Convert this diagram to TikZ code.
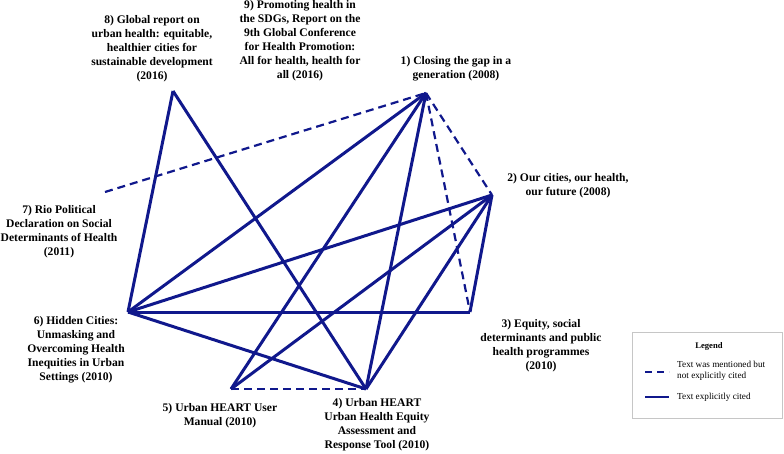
\documentclass[tikz,border=0pt]{standalone}
\usepackage{fontspec}
\setmainfont{Liberation Serif}
\usepackage{tikz}
\usetikzlibrary{positioning}
\definecolor{linkblue}{RGB}{16,24,140}

\begin{document}
\begin{tikzpicture}[x=1pt, y=-1pt,
  cited/.style={draw=linkblue, line width=3pt},
  mentioned/.style={draw=linkblue, line width=2.2pt, dash pattern=on 8pt off 5pt},
  doc/.style={font=\bfseries\fontsize{11.6}{14}\selectfont, align=center, inner sep=0pt},
  legtext/.style={font=\fontsize{9.2}{10.5}\selectfont, align=left, anchor=west, inner sep=0pt}]
\useasboundingbox (0,0) rectangle (784,454);
% document points
\coordinate (p1) at (426,93);
\coordinate (p2) at (492,195);
\coordinate (p3) at (470,312);
\coordinate (p4) at (366,389);
\coordinate (p5) at (231,389);
\coordinate (p6) at (128,312);
\coordinate (p7) at (105,192);
\coordinate (p8) at (173,91);
% labels
\node[doc] (t1) at (456,68.5) {1) Closing the gap in a\\generation (2008)};
\node[doc] (t2) at (568,186) {2) Our cities, our health,\\our future (2008)};
\node[doc] (t3) at (541,346) {3) Equity, social\\determinants and public\\health programmes\\(2010)};
\node[doc] (t4) at (377,425) {4) Urban HEART\\Urban Health Equity\\Assessment and\\Response Tool (2010)};
\node[doc] (t5) at (220,416) {5) Urban HEART User\\Manual (2010)};
\node[doc] (t6) at (76,350) {6) Hidden Cities:\\Unmasking and\\Overcoming Health\\Inequities in Urban\\Settings (2010)};
\node[doc] (t7) at (59,232) {7) Rio Political\\Declaration on Social\\Determinants of Health\\(2011)};
\node[doc] (t8) at (152,49) {8) Global report on\\urban health: equitable,\\healthier cities for\\sustainable development\\(2016)};
\node[doc] (t9) at (300,40.5) {9) Promoting health in\\the SDGs, Report on the\\9th Global Conference\\for Health Promotion:\\All for health, health for\\all (2016)};
% mentioned only
\draw[mentioned] (p7) -- (p1);
\draw[mentioned] (p1) -- (p2);
\draw[mentioned] (p1) -- (p3);
\draw[mentioned] (p5) -- (p4);
% cited
\draw[cited] (p8) -- (p6);
\draw[cited] (p8) -- (p4);
\draw[cited] (p1) -- (p6);
\draw[cited] (p1) -- (p5);
\draw[cited] (p1) -- (p4);
\draw[cited] (p2) -- (p6);
\draw[cited] (p2) -- (p3);
\draw[cited] (p2) -- (p5);
\draw[cited] (p2) -- (p4);
\draw[cited] (p6) -- (p3);
\draw[cited] (p6) -- (p4);
% legend
\draw[gray!45, line width=0.6pt] (632,332) rectangle (782,418);
\node[font=\bfseries\fontsize{8.6}{10}\selectfont, inner sep=0pt] (leg) at (709,346) {Legend};
\coordinate (d1) at (645,372);
\coordinate (d2) at (669,372);
\coordinate (s1) at (645,397);
\coordinate (s2) at (669,397);
\draw[mentioned, line width=1.8pt, dash pattern=on 7pt off 5pt] (d1) -- (d2);
\draw[cited, line width=2pt] (s1) -- (s2);
\node[legtext] (lm) at (677,371) {Text was mentioned but\\not explicitly cited};
\node[legtext] (lc) at (677,397) {Text explicitly cited};
\end{tikzpicture}
\end{document}
